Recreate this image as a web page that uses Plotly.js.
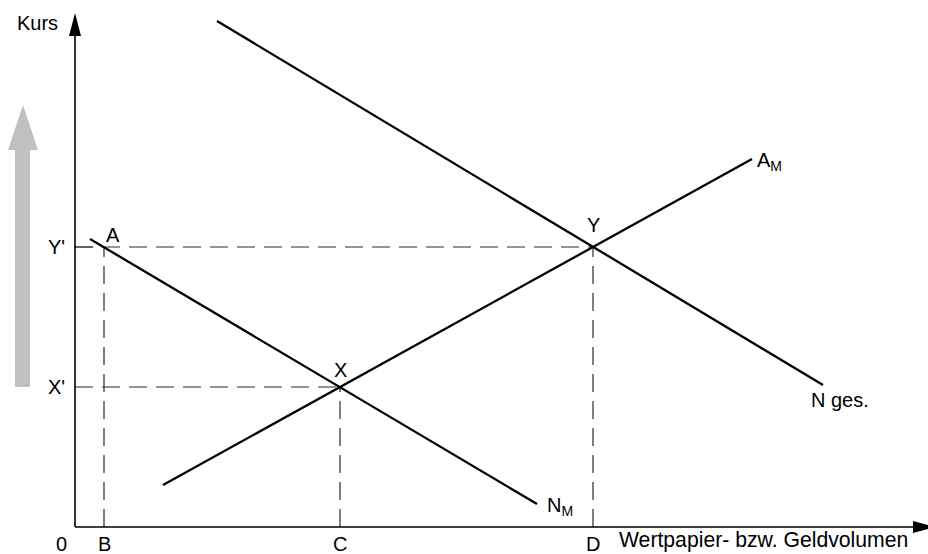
<!DOCTYPE html>
<html>
<head>
<meta charset="utf-8">
<script src="https://cdn.plot.ly/plotly-3.0.1.min.js"></script>
<style>html,body{margin:0;padding:0;background:#fff;overflow:hidden}</style>
</head>
<body>
<div id="chart" style="width:928px;height:554px"></div>
<script>
// ---- data (diagram units: origin at the axes crossing) ----
const pointNames = ['A', 'X', 'Y'];
const pointX = [29, 265, 518];
const pointY = [280, 140, 280];

const xTickLabels = ['B', 'C', 'D'];
const xTickValues = [29, 265, 518];
const yTickLabels = ["Y'", "X'"];
const yTickValues = [280, 140];

// curves: start / end points
const nmX = [15, 462];
const nmY = [288, 23];
const amX = [88, 677];
const amY = [42, 368];
const ngX = [142, 748];
const ngY = [506, 142];

const curveNames = ['N<sub>M</sub>', 'A<sub>M</sub>', 'N ges.'];

const xAxisEnd = 861;
const yAxisEnd = 514;
const arrowLen = 23;
const arrowHalf = 6;

// grey movement arrow (from X' up)
const moveArrowBase = 140;
const moveArrowTop = 422;

const FONT = 'Liberation Sans, Arial, Helvetica, sans-serif';

const traces = [];
function line(x, y, w, color, dash) {
  traces.push({x: x, y: y, mode: 'lines', type: 'scatter', hoverinfo: 'skip',
    line: {color: color, width: w, dash: dash || 'solid'}});
}

// dashed guide lines
for (let i = 0; i < pointX.length; i++) {
  line([0, pointX[i]], [pointY[i], pointY[i]], 1.2, '#2a2a2a', '18px,9px');
  line([pointX[i], pointX[i]], [0, pointY[i]], 1.2, '#2a2a2a', '18px,9px');
}
// axes
line([0, xAxisEnd - arrowLen], [0, 0], 1.6, '#000');
line([0, 0], [0, yAxisEnd - arrowLen], 1.6, '#000');
// curves
line(nmX, nmY, 2.3, '#000');
line(amX, amY, 2.3, '#000');
line(ngX, ngY, 2.3, '#000');

const shapes = [
  {type: 'path', xref: 'x', yref: 'y', line: {width: 0}, fillcolor: '#000',
   path: `M${xAxisEnd},0 L${xAxisEnd - arrowLen},${arrowHalf} L${xAxisEnd - arrowLen},${-arrowHalf} Z`},
  {type: 'path', xref: 'x', yref: 'y', line: {width: 0}, fillcolor: '#000',
   path: `M0,${yAxisEnd} L${-arrowHalf},${yAxisEnd - arrowLen} L${arrowHalf},${yAxisEnd - arrowLen} Z`},
  {type: 'path', xref: 'x', yref: 'y', line: {width: 0}, fillcolor: '#c0c0c0',
   path: `M-60,${moveArrowBase} L-45,${moveArrowBase} L-45,${moveArrowTop - 45} L-37,${moveArrowTop - 45} ` +
         `L-52,${moveArrowTop} L-67,${moveArrowTop - 45} L-60,${moveArrowTop - 45} Z`}
];

const annotations = [];
function label(text, x, y, xanchor, size, yanchor) {
  annotations.push({text: text, x: x, y: y, xref: 'x', yref: 'y',
    showarrow: false, xanchor: xanchor || 'center', yanchor: yanchor || 'middle',
    font: {family: FONT, size: size || 20, color: '#000'}});
}

label('Kurs', -38, 504);
label('0', -14, -17);
xTickLabels.forEach((t, i) => label(t, xTickValues[i], -17));
yTickLabels.forEach((t, i) => label(t, -8, yTickValues[i], 'right'));
label('Wertpapier- bzw. Geldvolumen', 542, -27, 'left', 21.2, 'bottom');

const pointOffX = [9, 0, 0];
const pointOffY = [12, 17, 22];
pointNames.forEach((t, i) => label(t, pointX[i] + pointOffX[i], pointY[i] + pointOffY[i]));

label(curveNames[0], nmX[1] + 8, nmY[1] - 2, 'left');
label(curveNames[1], amX[1] + 3, amY[1] - 2, 'left');
label(curveNames[2], ngX[1] - 14, ngY[1] - 15, 'left');

const layout = {
  width: 928, height: 554,
  margin: {l: 0, r: 0, t: 0, b: 0},
  paper_bgcolor: '#fff', plot_bgcolor: '#fff',
  showlegend: false,
  xaxis: {range: [-75, 853], visible: false, fixedrange: true},
  yaxis: {range: [-27, 527], visible: false, fixedrange: true},
  shapes: shapes,
  annotations: annotations
};

Plotly.newPlot('chart', traces, layout, {staticPlot: true, displayModeBar: false});
</script>
</body>
</html>
